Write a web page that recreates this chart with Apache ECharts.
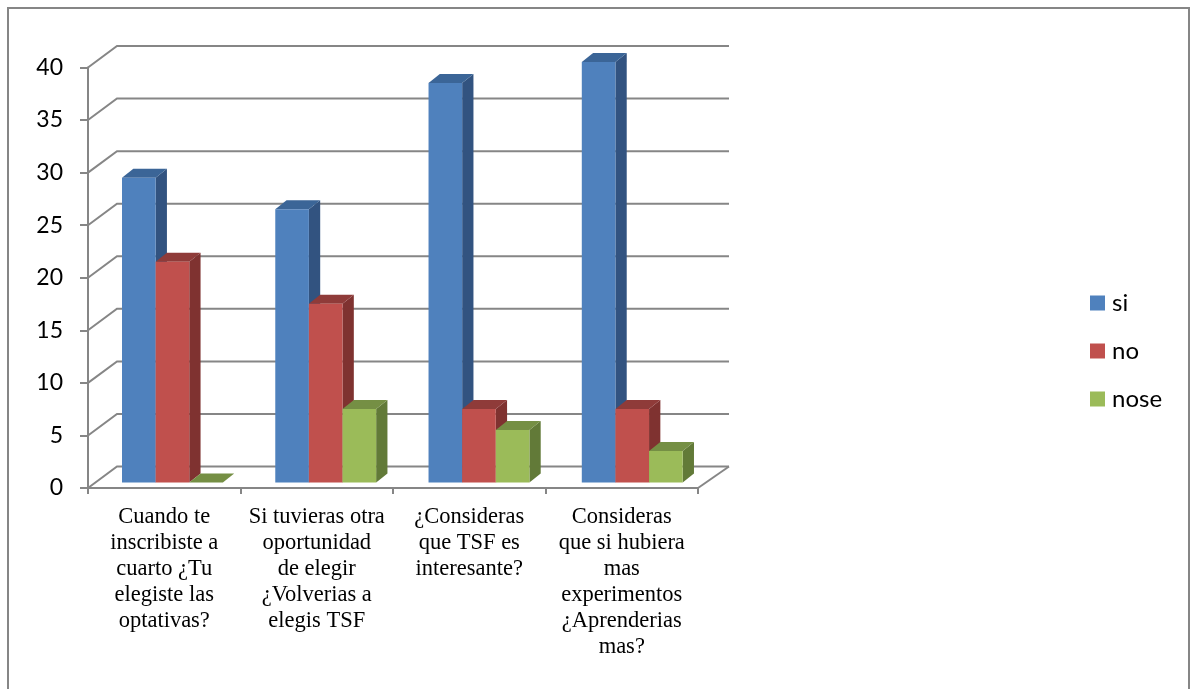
<!DOCTYPE html>
<html>
<head>
<meta charset="utf-8">
<style>
html, body { margin: 0; padding: 0; background: #fff; }
#chart { width: 1191px; height: 689px; }
</style>
<script src="https://cdn.jsdelivr.net/npm/echarts@6/dist/echarts.min.js"></script>
</head>
<body>
<div id="chart"></div>
<script>
// Survey answers per question
const questions = [
  'Cuando te\ninscribiste a\ncuarto ¿Tu\nelegiste las\noptativas?',
  'Si tuvieras otra\noportunidad\nde elegir\n¿Volverias a\nelegis TSF',
  '¿Consideras\nque TSF es\ninteresante?',
  'Consideras\nque si hubiera\nmas\nexperimentos\n¿Aprenderias\nmas?'
];
const si = [29, 26, 38, 40];
const no = [21, 17, 7, 7];
const nose = [0, 7, 5, 3];
const axisTicks = [0, 5, 10, 15, 20, 25, 30, 35, 40];

const AXIS_GRAY = '#868686';
const WALL_DX = 29, WALL_DY = -21.5;      // back wall offset from the front plane
const WALL_RIGHT_DX = 31;                 // right end of the back wall
const BAR_DX = 11.3, BAR_DY = -9;         // depth of each bar
const BAR_LIFT = 5.5;                     // bars stand slightly behind the floor edge
const BAR_START = 0.223, BAR_WIDTH = 0.2205; // fractions of a category band
const GROUP_PITCH = 1.005;                // spacing between groups, in bands

const palettes = {
  si:   { front: '#4F81BD', top: '#3B6597', side: '#325380' },
  no:   { front: '#C0504D', top: '#8F3B39', side: '#7F3230' },
  nose: { front: '#9BBB59', top: '#758F44', side: '#627A38' }
};

function barRenderer(pal, slot) {
  return function (params, api) {
    const idx = api.value(0);
    const band = api.size([1, 0])[0];
    const top = api.coord([idx, api.value(1)]);
    const w = band * BAR_WIDTH;
    const x0 = params.coordSys.x + band * (idx * GROUP_PITCH + BAR_START) + w * slot;
    const x1 = x0 + w;
    const yTop = top[1] - BAR_LIFT;
    const yBase = api.coord([idx, 0])[1] - BAR_LIFT;
    const poly = (pts, fill) => ({
      type: 'polygon', shape: { points: pts }, style: { fill: fill, stroke: null }
    });
    const children = [
      poly([[x1, yBase], [x1 + BAR_DX, yBase + BAR_DY], [x1 + BAR_DX, yTop + BAR_DY], [x1, yTop]], pal.side),
      poly([[x0, yTop], [x0 + BAR_DX, yTop + BAR_DY], [x1 + BAR_DX, yTop + BAR_DY], [x1, yTop]], pal.top)
    ];
    if (yBase > yTop) {
      children.push({
        type: 'rect',
        shape: { x: x0, y: yTop, width: w, height: yBase - yTop },
        style: { fill: pal.front, stroke: null }
      });
    }
    return { type: 'group', children: children };
  };
}

function wallRenderer(params, api) {
  const v = api.value(1);
  const p = api.coord([0, v]);
  const cs = params.coordSys;
  const line = { stroke: AXIS_GRAY, lineWidth: 2, fill: null };
  const children = [{
    type: 'polyline',
    shape: { points: [[cs.x, p[1]], [cs.x + WALL_DX, p[1] + WALL_DY], [cs.x + cs.width + WALL_RIGHT_DX, p[1] + WALL_DY]] },
    style: line
  }];
  if (v === 0) {
    children.push({
      type: 'line',
      shape: { x1: cs.x + cs.width, y1: p[1], x2: cs.x + cs.width + WALL_RIGHT_DX, y2: p[1] + WALL_DY },
      style: line
    });
  }
  return { type: 'group', children: children };
}

const barSeries = (name, values, slot) => ({
  name: name,
  type: 'custom',
  clip: false,
  z: 3 + slot,
  itemStyle: { color: palettes[name].front },
  encode: { x: 0, y: 1 },
  data: values.map((v, i) => [i, v]),
  renderItem: barRenderer(palettes[name], slot)
});

const chart = echarts.init(document.getElementById('chart'), null, { renderer: 'canvas' });
chart.setOption({
  animation: false,
  backgroundColor: '#fff',
  graphic: [{
    type: 'rect',
    silent: true,
    shape: { x: 8, y: 8, width: 1181, height: 700 },
    style: { fill: null, stroke: AXIS_GRAY, lineWidth: 2 }
  }],
  legend: {
    data: ['si', 'no', 'nose'],
    orient: 'vertical',
    left: 1090,
    top: 291,
    padding: 0,
    icon: 'rect',
    itemWidth: 15,
    itemHeight: 15,
    itemGap: 24,
    selectedMode: false,
    textStyle: { fontFamily: 'Lato', fontSize: 24, color: '#000', padding: [0, 0, 0, 2], lineHeight: 23 }
  },
  grid: { left: 88, right: 493, top: 67.5, bottom: 201 },
  xAxis: {
    type: 'category',
    data: questions,
    boundaryGap: true,
    axisLine: { show: true, lineStyle: { color: AXIS_GRAY, width: 2 } },
    axisTick: { show: true, length: 6, lineStyle: { color: AXIS_GRAY, width: 2 } },
    axisLabel: {
      interval: 0,
      margin: 16,
      fontFamily: 'Liberation Serif',
      fontSize: 22.5,
      lineHeight: 26,
      color: '#000'
    }
  },
  yAxis: {
    type: 'value',
    min: 0,
    max: 40,
    interval: 5,
    splitLine: { show: false },
    axisLine: { show: true, lineStyle: { color: AXIS_GRAY, width: 2 } },
    axisTick: { show: true, length: 8, lineStyle: { color: AXIS_GRAY, width: 2 } },
    axisLabel: { margin: 25, fontFamily: 'Lato', fontSize: 23, color: '#000' }
  },
  series: [
    {
      name: 'wall',
      type: 'custom',
      clip: false,
      z: 1,
      encode: { x: 0, y: 1 },
      data: axisTicks.map(v => [0, v]),
      renderItem: wallRenderer
    },
    barSeries('si', si, 0),
    barSeries('no', no, 1),
    barSeries('nose', nose, 2)
  ]
});
</script>
</body>
</html>
